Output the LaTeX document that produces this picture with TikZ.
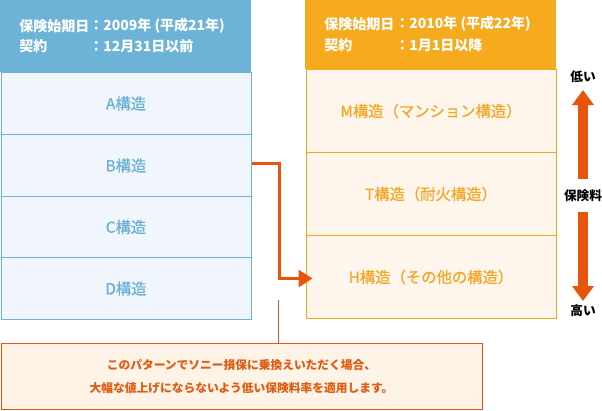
\documentclass[tikz,border=0pt]{standalone}
\usepackage{fontspec}
\setmainfont{Noto Sans CJK JP}
\newfontfamily\jp{Noto Sans CJK JP}
\newfontfamily\jpm[FakeBold=0.6]{Noto Sans CJK JP}
\usetikzlibrary{arrows.meta,calc}
\definecolor{bhead}{HTML}{6DB2D7}
\definecolor{bfill}{HTML}{F0F6FB}
\definecolor{btext}{HTML}{6AB0D6}
\definecolor{ohead}{HTML}{F6AA1E}
\definecolor{ofill}{HTML}{FEF6EC}
\definecolor{otext}{HTML}{F5A623}
\definecolor{arrowc}{HTML}{E8540C}
\definecolor{notefill}{HTML}{FDF3E6}
\definecolor{notetext}{HTML}{E05A12}
\tikzset{
  bhd/.style={fill=bhead,draw=none,minimum width=251*0.75pt,minimum height=72*0.75pt,inner sep=0,anchor=north west},
  ohd/.style={fill=ohead,draw=none,minimum width=251*0.75pt,minimum height=69*0.75pt,inner sep=0,anchor=north west},
  brow/.style={fill=bfill,draw=bhead,line width=0.75pt,minimum width=250*0.75pt,minimum height=62*0.75pt,inner sep=0,anchor=north west,text=btext,font=\jpm\fontsize{11.5}{13}\selectfont},
  orow/.style={fill=ofill,draw=otext,line width=0.75pt,minimum width=250*0.75pt,minimum height=83*0.75pt,inner sep=0,anchor=north west,text=otext,font=\jpm\fontsize{11.5}{13}\selectfont},
  hdtxt/.style={anchor=west,inner sep=0,text=white,font=\jp\bfseries\fontsize{10.5}{12}\selectfont},
  sidetxt/.style={inner sep=0,font=\jp\bfseries\fontsize{9.5}{11}\selectfont},
  fat/.style={draw=arrowc,line width=7.5pt,-{Triangle[length=11.25pt,width=15.75pt]}},
  conn/.style={draw=arrowc,line width=2.25pt,-{Triangle[length=10.5pt,width=12.75pt]}},
  thin/.style={draw=arrowc,line width=0.75pt},
}
\begin{document}
\begin{tikzpicture}[x=0.75pt,y=-0.75pt]
\useasboundingbox (0,0) rectangle (602,410);
% left column
\node[bhd] (lh) at (0,0) {};
\node[hdtxt] (lh1) at (19,26) {保険始期日};
\node[hdtxt] (lh1v) at (89,26) {：2009年 (平成21年)};
\node[hdtxt] (lh2) at (19,46) {契約};
\node[hdtxt] (lh2v) at (89,46) {：12月31日以前};
\node[brow] (A) at (0.5,72) {A構造};
\node[brow] (B) at (0.5,134) {B構造};
\node[brow,minimum height=61*0.75pt] (C) at (0.5,196) {C構造};
\node[brow] (D) at (0.5,257) {D構造};
% right column
\node[ohd] (rh) at (305,0) {};
\node[hdtxt] (rh1) at (324,24) {保険始期日};
\node[hdtxt] (rh1v) at (395,24) {：2010年 (平成22年)};
\node[hdtxt] (rh2) at (324,45) {契約};
\node[hdtxt] (rh2v) at (395,45) {：1月1日以降};
\node[orow] (M) at (305.5,69) {M構造（マンション構造）};
\node[orow] (T) at (305.5,152) {T構造（耐火構造）};
\node[orow] (H) at (305.5,235) {H構造（その他の構造）};
% connector
\draw[conn,shorten >=-5.25pt] (B.east) ++(0,-2) -- ++(27.5,0) |- ($(H.west)+(0,1.5)$);
% note
\node[draw=arrowc,fill=notefill,line width=0.75pt,minimum width=481*0.75pt,minimum height=66*0.75pt,inner sep=0,anchor=north west,text=notetext,align=center,font=\jp\bfseries\fontsize{8.8}{17}\selectfont] (note) at (0.5,343) {このパターンでソニー損保に乗換えいただく場合、\\大幅な値上げにならないよう低い保険料率を適用します。};
\coordinate (tick) at (278,300);
\draw[thin] (tick) -- (note.north -| tick);
% side
\node[sidetxt] (lo) at (583,77) {低い};
\node[sidetxt] (mid) at (583,196) {保険料};
\node[sidetxt] (hi) at (583,311) {高い};
\draw[fat] ($(mid)+(0,-17)$) -- ($(lo)+(0,13)$);
\draw[fat] ($(mid)+(0,16)$) -- ($(hi)+(0,-10)$);
\end{tikzpicture}
\end{document}
